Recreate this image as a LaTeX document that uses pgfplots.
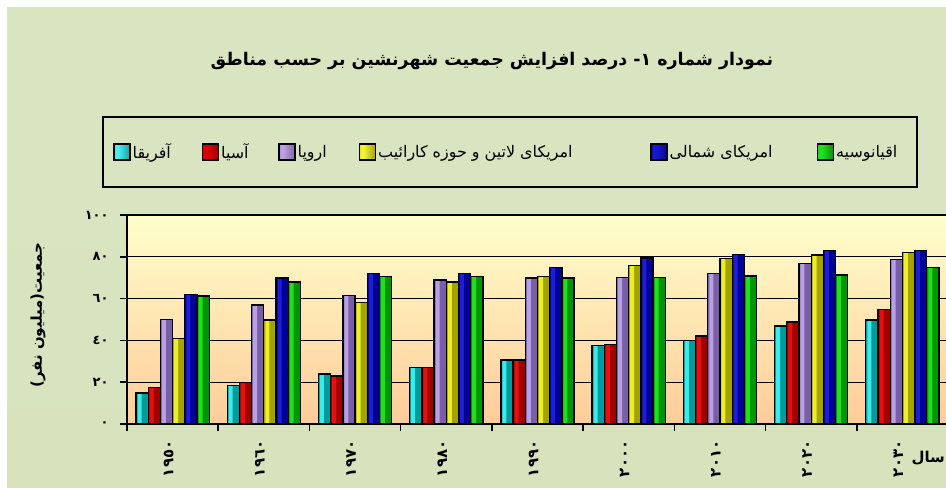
\documentclass[border=0pt]{standalone}
\usepackage{fontspec}
\usepackage{pgfplots}
\usepackage{pgfplotstable}
\pgfplotsset{compat=1.18}
\newfontfamily\arabicfont[Script=Arabic]{DejaVu Sans}
\TeXXeTstate=1

\definecolor{bgtop}{HTML}{D9E4C1}
\definecolor{bgmid}{HTML}{E7EEDE}
\definecolor{bgbot}{HTML}{D8E3BE}
\definecolor{plottop}{HTML}{FFFFCC}
\definecolor{plotbot}{HTML}{FFCC99}
\definecolor{tealL}{HTML}{00A8A8}\definecolor{tealM}{HTML}{4AF5F5}\definecolor{tealD}{HTML}{006868}
\definecolor{redL}{HTML}{A00000}\definecolor{redM}{HTML}{E80000}\definecolor{redD}{HTML}{680000}
\definecolor{purL}{HTML}{7E62A6}\definecolor{purM}{HTML}{C0A4EA}\definecolor{purD}{HTML}{574278}
\definecolor{yelL}{HTML}{A8A800}\definecolor{yelM}{HTML}{FAFA30}\definecolor{yelD}{HTML}{686800}
\definecolor{bluL}{HTML}{000090}\definecolor{bluM}{HTML}{1818D8}\definecolor{bluD}{HTML}{000060}
\definecolor{grnL}{HTML}{009000}\definecolor{grnM}{HTML}{20E820}\definecolor{grnD}{HTML}{005800}
% flat base and highlight colours of the bars
\definecolor{tealB}{HTML}{009C9C}\definecolor{tealH}{HTML}{3CEAEA}
\definecolor{redB}{HTML}{A00000}\definecolor{redH}{HTML}{E41010}
\definecolor{purB}{HTML}{7A5EA6}\definecolor{purH}{HTML}{B8A0E4}
\definecolor{yelB}{HTML}{A4A400}\definecolor{yelH}{HTML}{EEEE28}
\definecolor{bluB}{HTML}{000096}\definecolor{bluH}{HTML}{1E1ED6}
\definecolor{grnB}{HTML}{009600}\definecolor{grnH}{HTML}{20DE20}

\pgfdeclarehorizontalshading{tealbar}{100bp}{color(0bp)=(tealL); color(35bp)=(tealM); color(100bp)=(tealD)}
\pgfdeclarehorizontalshading{redbar}{100bp}{color(0bp)=(redL); color(35bp)=(redM); color(100bp)=(redD)}
\pgfdeclarehorizontalshading{purbar}{100bp}{color(0bp)=(purL); color(35bp)=(purM); color(100bp)=(purD)}
\pgfdeclarehorizontalshading{yelbar}{100bp}{color(0bp)=(yelL); color(35bp)=(yelM); color(100bp)=(yelD)}
\pgfdeclarehorizontalshading{blubar}{100bp}{color(0bp)=(bluL); color(35bp)=(bluM); color(100bp)=(bluD)}
\pgfdeclarehorizontalshading{grnbar}{100bp}{color(0bp)=(grnL); color(35bp)=(grnM); color(100bp)=(grnD)}

\pgfplotstableread{
x af as eu la na oc
0 14.8 17.4 49.9 40.8 61.9 61.2
1 18.5 19.8 56.9 49.8 69.9 67.9
2 23.9 23.0 61.4 58.1 72.1 70.5
3 27.0 27.0 68.9 67.9 72.1 70.5
4 30.6 30.6 69.9 70.5 75.0 69.9
5 37.5 38.0 70.2 75.9 79.4 70.2
6 39.9 42.1 72.1 79.3 81.0 70.8
7 46.9 48.8 76.9 80.9 82.9 71.3
8 49.8 54.9 78.8 82.1 82.9 74.8
}\data

\newcommand{\legentry}[2]{\makebox[#1bp][l]{#2}}

\pgfplotsset{
  limg/.style={legend image code/.code={\draw[draw=black, line width=1.5bp, shade, shading=#1] (0bp,-8bp) rectangle (16bp,8bp);}},
  hilite/.style={forget plot, draw=none, bar width=4bp, fill=#1},
  border/.style={forget plot, draw=black, fill=none, line width=1.3bp},
}

\begin{document}
\begin{tikzpicture}[x=1bp,y=1bp]
\useasboundingbox (0,0) rectangle (946,488);
\clip (0,0) rectangle (946,488);
\shade[top color=bgtop, middle color=bgmid, bottom color=bgbot] (7,0) rectangle (946,480);
\node[font=\fontsize{17.5}{20}\arabicfont\bfseries] at (492,427) {\beginR نمودار شماره ١- درصد افزایش جمعیت شهرنشین بر حسب مناطق\endR};
\draw[line width=1.5bp] (103,301) rectangle (917,371);
\node[rotate=90, font=\fontsize{15}{18}\arabicfont\bfseries] at (38,173) {\beginR جمعیت(میلیون نفر)\endR};
\node[font=\fontsize{15}{18}\arabicfont\bfseries, anchor=east, inner sep=1bp] at (946,30) {\beginR سال\endR};
\begin{axis}[
  at={(127bp,64bp)}, anchor=south west,
  scale only axis, width=821bp, height=209bp,
  xmin=-0.5, xmax=8.5, ymin=0, ymax=100,
  ybar=0pt, bar width=12.2bp,
  axis background/.style={top color=plottop, bottom color=plotbot},
  axis line style={line width=1.5bp, black},
  ymajorgrids, grid style={line width=1.2bp, black},
  ytick={0,20,40,60,80,100},
  yticklabels={٠,٢٠,٤٠,٦٠,٨٠,١٠٠},
  xtick={-0.5,0.5,...,8.5},
  x tick label as interval,
  xticklabels={١٩٥٠,١٩٦٠,١٩٧٠,١٩٨٠,١٩٩٠,٢٠٠٠,٢٠١٠,٢٠٢٠,٢٠٣٠},
  xticklabel style={rotate=90, anchor=east, xshift=-6bp, yshift=4bp, font=\fontsize{15}{17}\arabicfont\bfseries},
  yticklabel style={xshift=-8bp, font=\fontsize{13}{15}\arabicfont\bfseries},
  tick align=outside, major tick length=7bp,
  tick style={line width=1.5bp, black},
  tick pos=left,
  legend columns=6,
  legend style={at={(-0.0207,1.3014)}, anchor=west, draw=none, fill=none,
    font=\fontsize{16}{19}\arabicfont,
    /tikz/every even column/.append style={column sep=17bp},
    nodes={inner sep=2bp}},
  every axis plot/.append style={draw=black, line width=1.3bp},
]
% base bars
\addplot[bar shift=-30.5bp, fill=tealB, limg=tealbar] table[x=x,y=af]{\data};
\addplot[bar shift=-18.3bp, fill=redB, limg=redbar] table[x=x,y=as]{\data};
\addplot[bar shift=-6.1bp, fill=purB, limg=purbar] table[x=x,y=eu]{\data};
\addplot[bar shift=6.1bp, fill=yelB, limg=yelbar] table[x=x,y=la]{\data};
\addplot[bar shift=18.3bp, fill=bluB, limg=blubar] table[x=x,y=na]{\data};
\addplot[bar shift=30.5bp, fill=grnB, limg=grnbar] table[x=x,y=oc]{\data};
% highlights
\addplot[bar shift=-33.1bp, hilite=tealH] table[x=x,y=af]{\data};
\addplot[bar shift=-20.9bp, hilite=redH] table[x=x,y=as]{\data};
\addplot[bar shift=-8.7bp, hilite=purH] table[x=x,y=eu]{\data};
\addplot[bar shift=3.5bp, hilite=yelH] table[x=x,y=la]{\data};
\addplot[bar shift=15.7bp, hilite=bluH] table[x=x,y=na]{\data};
\addplot[bar shift=27.9bp, hilite=grnH] table[x=x,y=oc]{\data};
% outlines
\addplot[bar shift=-30.5bp, border] table[x=x,y=af]{\data};
\addplot[bar shift=-18.3bp, border] table[x=x,y=as]{\data};
\addplot[bar shift=-6.1bp, border] table[x=x,y=eu]{\data};
\addplot[bar shift=6.1bp, border] table[x=x,y=la]{\data};
\addplot[bar shift=18.3bp, border] table[x=x,y=na]{\data};
\addplot[bar shift=30.5bp, border] table[x=x,y=oc]{\data};
\legend{\legentry{50}{\beginR آفریقا\endR}, \legentry{38}{\beginR آسیا\endR}, \legentry{42}{\beginR اروپا\endR}, \legentry{253}{\beginR امریکای لاتین و حوزه کارائیب\endR}, \legentry{128}{\beginR امریکای شمالی\endR}, \legentry{67}{\beginR اقیانوسیه\endR}}
\end{axis}
\end{tikzpicture}
\end{document}
